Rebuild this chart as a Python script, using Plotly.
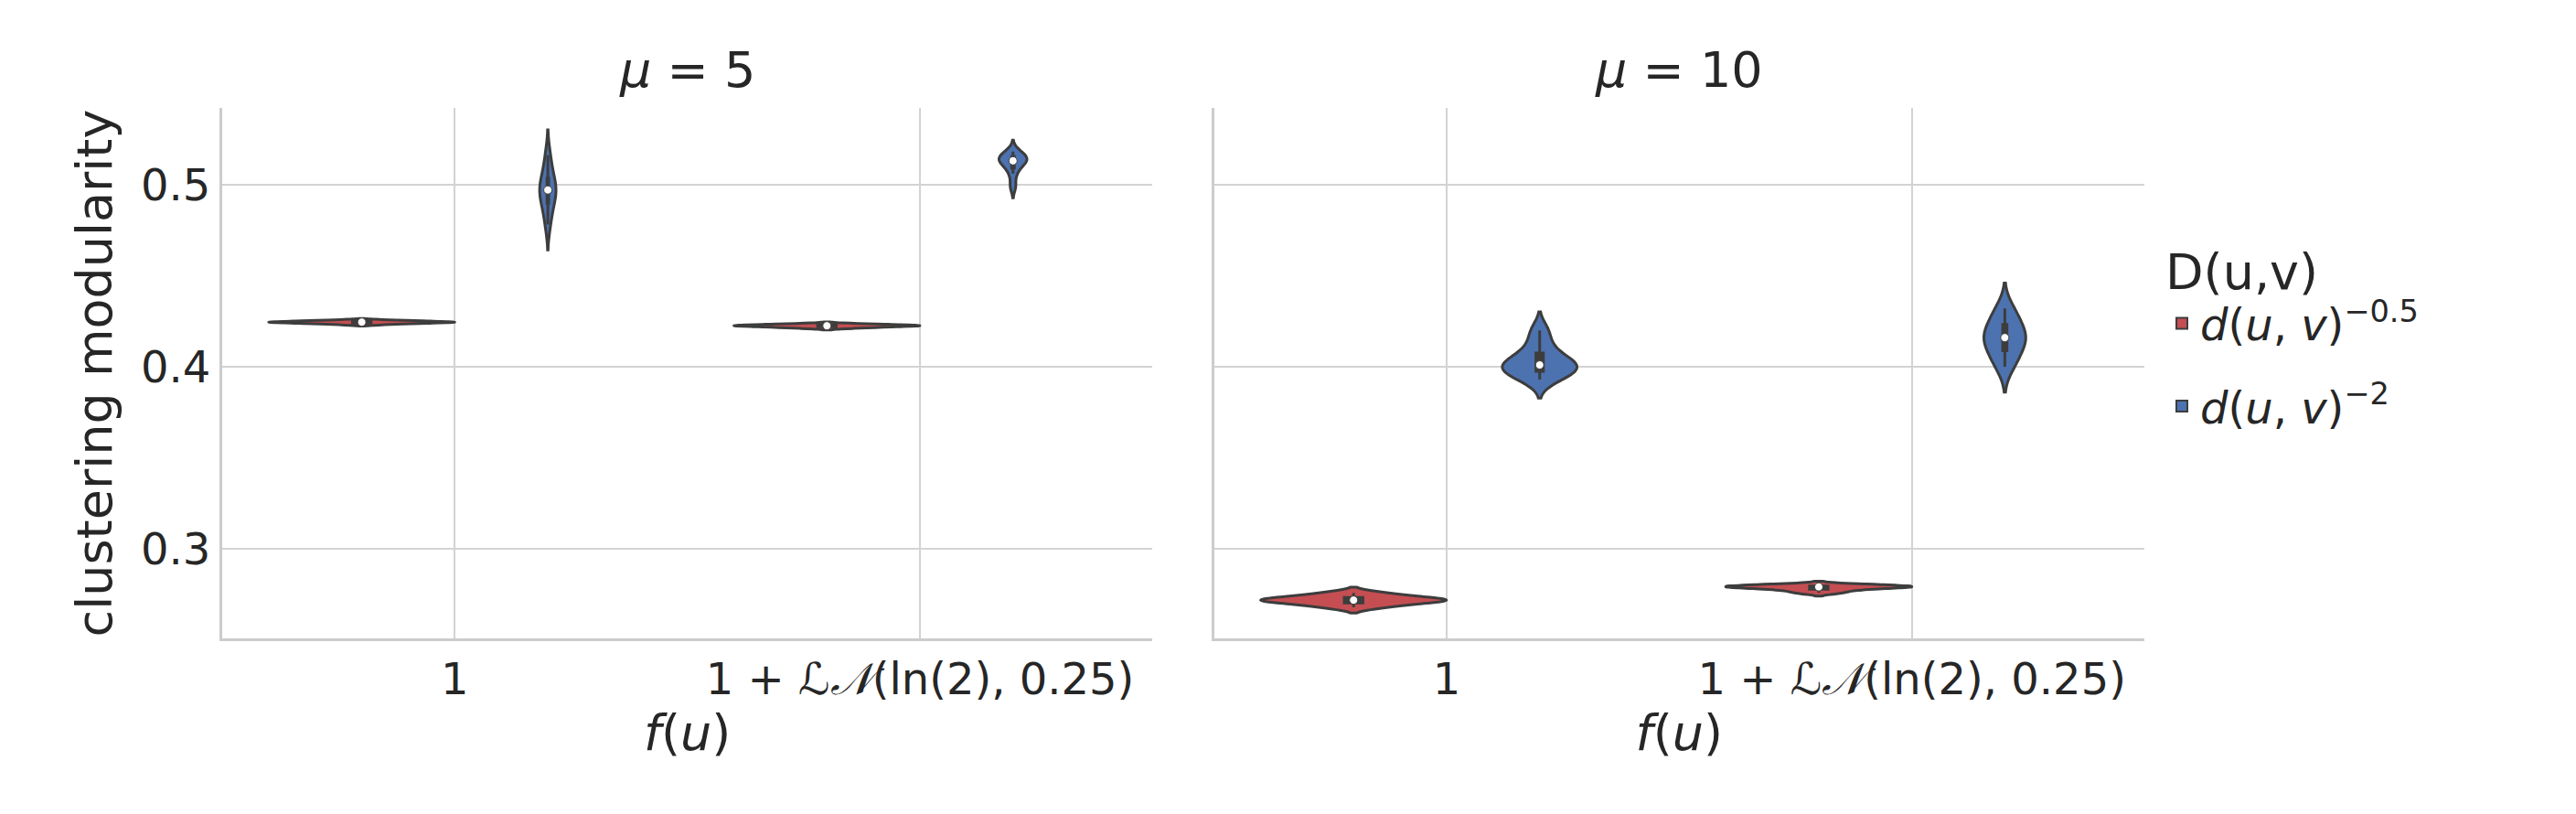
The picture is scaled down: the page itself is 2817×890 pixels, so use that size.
import numpy as np
import plotly.graph_objects as go
from plotly.subplots import make_subplots

categories = ["1", "1 + <i>ℒ𝒩</i>(ln(2), 0.25)"]
panels = ["<i>μ</i> = 5", "<i>μ</i> = 10"]
series_names = ["<i>d</i>(<i>u</i>, <i>v</i>)<sup>−0.5</sup>", "<i>d</i>(<i>u</i>, <i>v</i>)<sup>−2</sup>"]
colors = ["#C44E52", "#4C72B0"]
yticks = [0.3, 0.4, 0.5]

# samples per panel -> series -> category
mu5_red_f1 = [0.4232, 0.4238, 0.4241, 0.4243, 0.4245, 0.4246, 0.4248, 0.4252, 0.4256]
mu5_red_ln = [0.4212, 0.4218, 0.4222, 0.4224, 0.4226, 0.4228, 0.4231, 0.4236]
mu5_blue_f1 = [0.478, 0.486, 0.491, 0.495, 0.497, 0.499, 0.502, 0.508, 0.516]
mu5_blue_ln = [0.499, 0.506, 0.510, 0.512, 0.513, 0.514, 0.515, 0.516, 0.518]
mu10_red_f1 = [0.268, 0.270, 0.271, 0.272, 0.272, 0.273, 0.274, 0.276]
mu10_red_ln = [0.276, 0.2775, 0.2785, 0.279, 0.2795, 0.2795, 0.280, 0.2805]
mu10_blue_f1 = [0.393, 0.396, 0.398, 0.400, 0.401, 0.403, 0.406, 0.412, 0.420]
mu10_blue_ln = [0.400, 0.405, 0.410, 0.414, 0.416, 0.418, 0.422, 0.427, 0.432]

data = [
    [[mu5_red_f1, mu5_red_ln], [mu5_blue_f1, mu5_blue_ln]],
    [[mu10_red_f1, mu10_red_ln], [mu10_blue_f1, mu10_blue_ln]],
]
# drawn violin widths (seaborn area scaling look), in category units
widths = [[[0.4, 0.4], [0.035, 0.06]], [[0.4, 0.4], [0.16, 0.09]]]
dodge = [-0.2, 0.2]

fig = make_subplots(rows=1, cols=2, shared_yaxes=True, horizontal_spacing=0.032,
                    subplot_titles=panels)
ink = "#3d3d3d"
for p in range(2):
    for s in range(2):
        for c in range(2):
            vals = data[p][s][c]
            xpos = c + dodge[s]
            fig.add_trace(go.Violin(
                x=[xpos] * len(vals), y=vals, name=series_names[s],
                legendgroup=series_names[s], showlegend=(p == 0 and c == 0),
                fillcolor=colors[s], line=dict(color=ink, width=3),
                box=dict(visible=True, fillcolor=ink, line=dict(color=ink), width=0.1),
                meanline_visible=False, points=False, spanmode="soft",
                width=widths[p][s][c], hoveron="violins",
            ), row=1, col=p + 1)
            fig.add_trace(go.Scatter(
                x=[xpos], y=[float(np.median(vals))], mode="markers",
                marker=dict(color="white", size=9, line=dict(color=ink, width=1)),
                showlegend=False, hoverinfo="skip"), row=1, col=p + 1)

fig.update_layout(
    width=2817, height=890, template="plotly_white", paper_bgcolor="white", plot_bgcolor="white",
    violinmode="overlay",
    font=dict(family="DejaVu Sans", size=50, color="#262626"),
    margin=dict(l=235, r=480, t=110, b=200),
    legend=dict(title=dict(text="D(u,v)", font=dict(size=54)), x=1.01, y=0.78,
                xanchor="left", yanchor="top", font=dict(size=48), itemsizing="constant",
                tracegroupgap=25),
)
for ann in fig.layout.annotations:
    ann.font = dict(size=54, family="DejaVu Sans", color="#262626")
    ann.yshift = 8
fig.update_xaxes(showgrid=True, gridcolor="#d3d3d3", gridwidth=2, showline=True, linecolor="#cccccc",
                 linewidth=3, ticks="", tickvals=[0, 1], ticktext=categories, tickfont=dict(size=48),
                 title=dict(text="<i>f</i>(<i>u</i>)", font=dict(size=54), standoff=10),
                 range=[-0.5, 1.5], zeroline=False)
fig.update_yaxes(showgrid=True, gridcolor="#d3d3d3", gridwidth=2, showline=True, linecolor="#cccccc",
                 linewidth=3, zeroline=False, tickvals=yticks, ticktext=[str(t) for t in yticks],
                 tickfont=dict(size=48), range=[0.251, 0.542], ticks="")
fig.update_yaxes(title=dict(text="clustering modularity", font=dict(size=54), standoff=15), row=1, col=1)
fig.write_html("out.html")
